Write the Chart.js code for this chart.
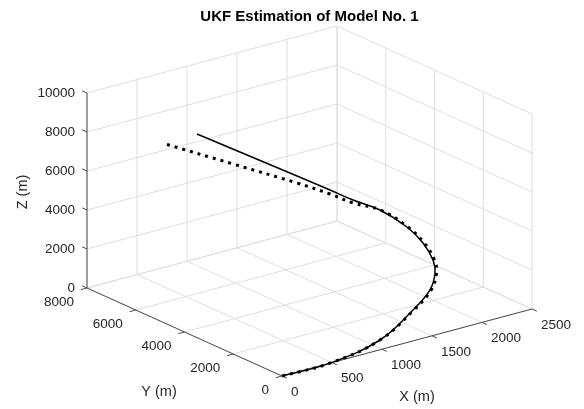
<!DOCTYPE html>
<html>
<head>
<meta charset="utf-8">
<title>UKF Estimation of Model No. 1</title>
<script src="https://cdn.jsdelivr.net/npm/chart.js@4.4.1/dist/chart.umd.min.js"></script>
<style>
  html, body { margin: 0; padding: 0; background: #fff; }
  #wrap { width: 584px; height: 409px; position: relative; }
</style>
</head>
<body>
<div id="wrap"><canvas id="chart"></canvas></div>
<script>
/* =========================================================
   DATA
========================================================= */

const xTicks = [0, 500, 1000, 1500, 2000, 2500];
const yTicks = [0, 2000, 4000, 6000, 8000];
const zTicks = [0, 2000, 4000, 6000, 8000, 10000];

// true trajectory (solid line)
const trueX = [0, 480, 1029, 1432, 1699, 1847, 1924, 1946, 1908, 1784, 1636, 1504, 1296, 991, 686];
const trueY = [0, 0, 200, 500, 900, 1300, 1700, 2200, 2700, 3300, 3800, 4200, 4700, 5500, 6300];
const trueZ = [0, 0, 319, 1134, 1568, 2010, 2346, 2905, 3496, 4199, 4634, 5102, 5826, 6867, 7913];

// UKF estimate (dotted line)
const estX = [0, 480, 1029, 1440, 1712, 1862, 1938, 1958, 1916, 1790, 1636, 1504, 1308, 924, 458];
const estY = [0, 0, 200, 500, 900, 1300, 1700, 2200, 2700, 3300, 3800, 4200, 4750, 5800, 6800];
const estZ = [0, 0, 319, 1125, 1560, 2000, 2335, 2895, 3488, 4190, 4480, 4897, 5421, 6330, 7484];

/* =========================================================
   3D VIEW (orthographic box, screen units = canvas px)
========================================================= */

const W = 584, H = 409;
const view = {
  origin: [282, 376],
  xDir: [250, -67],
  yDir: [-195, -88],
  zDir: [0, -195]
};
const xMax = xTicks[xTicks.length - 1];
const yMax = yTicks[yTicks.length - 1];
const zMax = zTicks[zTicks.length - 1];
const tickLen = 0.025;

function proj(x, y, z) {
  const fx = x / xMax, fy = y / yMax, fz = z / zMax;
  return {
    x: view.origin[0] + fx * view.xDir[0] + fy * view.yDir[0] + fz * view.zDir[0],
    y: view.origin[1] + fx * view.xDir[1] + fy * view.yDir[1] + fz * view.zDir[1]
  };
}

function segments(list) {
  const out = [];
  list.forEach(([a, b]) => {
    out.push(proj(...a), proj(...b), { x: NaN, y: NaN });
  });
  return out;
}

/* grid: floor + two back walls */
const gridSegs = [];
xTicks.forEach(x => gridSegs.push([[x, 0, 0], [x, yMax, 0]]));
yTicks.forEach(y => gridSegs.push([[0, y, 0], [xMax, y, 0]]));
xTicks.forEach(x => gridSegs.push([[x, yMax, 0], [x, yMax, zMax]]));
zTicks.forEach(z => gridSegs.push([[0, yMax, z], [xMax, yMax, z]]));
yTicks.forEach(y => gridSegs.push([[xMax, y, 0], [xMax, y, zMax]]));
zTicks.forEach(z => gridSegs.push([[xMax, 0, z], [xMax, yMax, z]]));

/* axis lines + tick marks */
const axisSegs = [
  [[0, 0, 0], [xMax, 0, 0]],
  [[0, 0, 0], [0, yMax, 0]],
  [[0, yMax, 0], [0, yMax, zMax]]
];
xTicks.forEach(x => axisSegs.push([[x, 0, 0], [x, -tickLen * yMax, 0]]));
yTicks.forEach(y => axisSegs.push([[0, y, 0], [-tickLen * xMax, y, 0]]));
zTicks.forEach(z => axisSegs.push([[0, yMax, z], [0, yMax * (1 + tickLen), z]]));

const truePts = trueX.map((x, i) => proj(x, trueY[i], trueZ[i]));
const estPts = estX.map((x, i) => proj(x, estY[i], estZ[i]));

/* =========================================================
   TEXT (title, tick labels, axis labels)
========================================================= */

const FONT = "'Liberation Sans', Arial, Helvetica, sans-serif";

const axisText = {
  id: 'axisText',
  afterDraw(chart) {
    const ctx = chart.ctx;
    const sx = chart.scales.x, sy = chart.scales.y;
    const px = p => ({ x: sx.getPixelForValue(p.x), y: sy.getPixelForValue(p.y) });

    ctx.save();
    ctx.fillStyle = '#262626';
    ctx.font = '13.5px ' + FONT;
    ctx.textBaseline = 'middle';

    ctx.textAlign = 'left';
    xTicks.forEach(x => {
      const p = px(proj(x, 0, 0));
      ctx.fillText(String(x), p.x + 9, p.y + 16);
    });

    ctx.textAlign = 'right';
    yTicks.forEach(y => {
      const p = px(proj(0, y, 0));
      ctx.fillText(String(y), p.x - 13, p.y + 14.5);
    });
    zTicks.forEach(z => {
      const p = px(proj(0, yMax, z));
      ctx.fillText(String(z), p.x - 12, p.y);
    });

    // axis labels
    ctx.font = '14.5px ' + FONT;
    ctx.textAlign = 'center';
    const xl = px(proj(xMax / 2, 0, 0));
    ctx.fillText('X (m)', xl.x + 10, xl.y + 54.5);
    const yl = px(proj(0, yMax / 2, 0));
    ctx.fillText('Y (m)', yl.x - 25.5, yl.y + 60);
    const zl = px(proj(0, yMax, zMax / 2));
    ctx.save();
    ctx.translate(zl.x - 64, zl.y + 1.5);
    ctx.rotate(-Math.PI / 2);
    ctx.fillText('Z (m)', 0, 0);
    ctx.restore();

    // title
    const left = px(proj(0, yMax, 0)), right = px(proj(xMax, 0, 0));
    const top = px(proj(xMax, yMax, zMax));
    ctx.fillStyle = '#000';
    ctx.font = 'bold 15px ' + FONT;
    ctx.fillText('UKF Estimation of Model No. 1', (left.x + right.x) / 2, top.y - 9);
    ctx.restore();
  }
};

/* =========================================================
   CHART
========================================================= */

new Chart(document.getElementById('chart'), {
  type: 'scatter',
  data: {
    datasets: [
      {
        label: 'UKF estimate',
        data: estPts,
        showLine: true,
        borderColor: '#000',
        borderWidth: 3,
        borderDash: [3, 5],
        borderCapStyle: 'butt',
        tension: 0.4,
        pointRadius: 0,
        order: 1
      },
      {
        label: 'True',
        data: truePts,
        showLine: true,
        borderColor: '#000',
        borderWidth: 1.5,
        tension: 0.4,
        pointRadius: 0,
        order: 2
      },
      {
        label: 'axes',
        data: segments(axisSegs),
        showLine: true,
        spanGaps: false,
        borderColor: '#4d4d4d',
        borderWidth: 1,
        tension: 0,
        pointRadius: 0,
        order: 4
      },
      {
        label: 'grid',
        data: segments(gridSegs),
        showLine: true,
        spanGaps: false,
        borderColor: '#dedede',
        borderWidth: 1,
        tension: 0,
        pointRadius: 0,
        order: 5
      }
    ]
  },
  options: {
    responsive: true,
    maintainAspectRatio: false,
    animation: false,
    layout: { padding: 0 },
    plugins: {
      legend: { display: false },
      tooltip: { enabled: false },
      title: { display: false }
    },
    scales: {
      x: { type: 'linear', min: 0, max: W, display: false },
      y: { type: 'linear', min: 0, max: H, reverse: true, display: false }
    }
  },
  plugins: [axisText]
});
</script>
</body>
</html>
